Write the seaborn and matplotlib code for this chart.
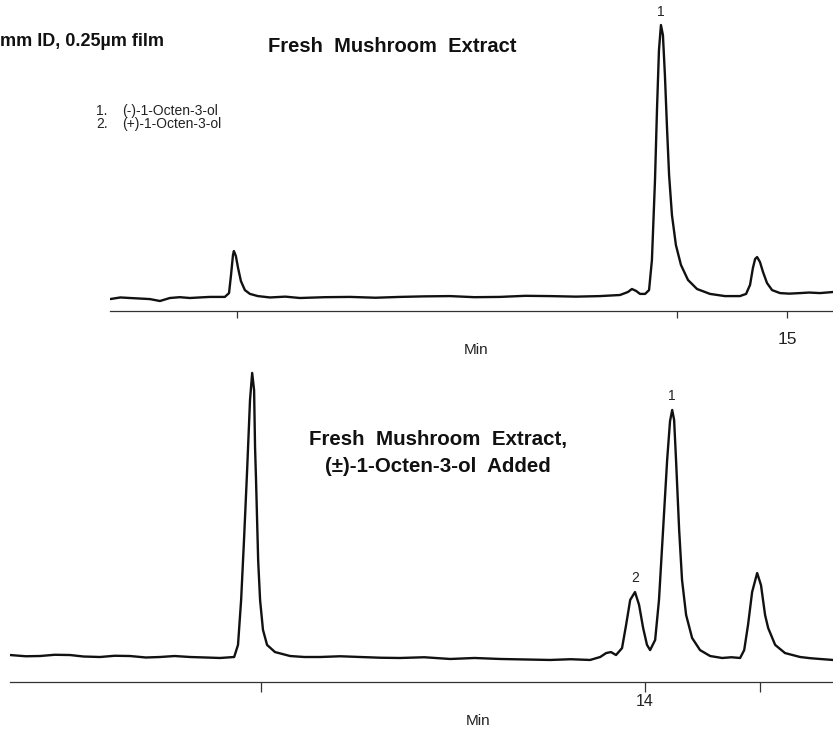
import numpy as np
import matplotlib
matplotlib.use('Agg')
import matplotlib.pyplot as plt
import seaborn as sns
import pandas as pd

# top trace: fresh mushroom extract (time in min, detector signal)
top_time = [11.923, 11.970, 12.014, 12.060, 12.105, 12.150, 12.195, 12.240, 12.286, 12.330,
            12.377, 12.445, 12.464, 12.473, 12.482, 12.486, 12.495, 12.505, 12.518, 12.536,
            12.559, 12.595, 12.650, 12.720, 12.786, 12.900, 13.014, 13.130, 13.241, 13.350,
            13.468, 13.580, 13.695, 13.810, 13.923, 14.040, 14.150, 14.241, 14.277, 14.295,
            14.314, 14.332, 14.355, 14.373, 14.386, 14.400, 14.409, 14.418, 14.427, 14.436,
            14.445, 14.455, 14.464, 14.477, 14.495, 14.518, 14.550, 14.591, 14.650, 14.718,
            14.786, 14.814, 14.832, 14.845, 14.855, 14.864, 14.877, 14.891, 14.909, 14.932,
            14.968, 15.010, 15.059, 15.100, 15.150, 15.209]
top_signal = [-0.4, 0.2, 0.0, -0.2, -0.4, -1.1, 0.0, 0.3, 0.0, 0.2,
              0.4, 0.4, 1.8, 8.4, 15.8, 17.2, 15.4, 11.0, 6.2, 2.9,
              1.5, 0.7, 0.2, 0.5, 0.0, 0.3, 0.4, 0.1, 0.4, 0.6,
              0.7, 0.3, 0.4, 0.8, 0.7, 0.5, 0.7, 1.1, 2.2, 3.3,
              2.6, 1.5, 1.5, 2.9, 13.9, 43.2, 68.9, 90.8, 100.0, 96.3,
              81.7, 61.5, 45.1, 30.4, 19.4, 12.1, 6.6, 3.3, 1.5, 0.7,
              0.7, 1.5, 4.8, 11.0, 14.3, 15.0, 13.2, 9.5, 5.5, 2.9,
              1.8, 1.6, 1.8, 2.0, 1.8, 2.2]

# bottom trace: extract spiked with racemic 1-octen-3-ol
bot_time = [11.354, 11.420, 11.479, 11.540, 11.604, 11.660, 11.729, 11.790, 11.854, 11.920,
            11.979, 12.040, 12.104, 12.170, 12.229, 12.288, 12.304, 12.317, 12.329, 12.342,
            12.354, 12.363, 12.371, 12.375, 12.379, 12.388, 12.396, 12.408, 12.425, 12.458,
            12.521, 12.580, 12.646, 12.730, 12.813, 12.900, 12.979, 13.080, 13.188, 13.290,
            13.396, 13.500, 13.604, 13.690, 13.771, 13.813, 13.838, 13.858, 13.879, 13.904,
            13.921, 13.938, 13.958, 13.975, 13.992, 14.008, 14.021, 14.042, 14.058, 14.075,
            14.092, 14.104, 14.113, 14.121, 14.129, 14.142, 14.154, 14.171, 14.196, 14.229,
            14.271, 14.321, 14.360, 14.396, 14.413, 14.429, 14.446, 14.467, 14.483, 14.500,
            14.513, 14.542, 14.583, 14.646, 14.690, 14.729, 14.783]
bot_signal = [0.8, 0.3, 0.4, 0.9, 0.8, 0.2, 0.0, 0.5, 0.4, -0.2,
              0.0, 0.4, 0.0, -0.2, -0.4, 0.0, 4.9, 23.1, 47.4, 75.7,
              104.0, 115.0, 108.0, 85.0, 72.0, 39.0, 23.0, 11.0, 4.9, 2.0,
              0.4, 0.0, 0.0, 0.3, 0.0, -0.3, -0.4, -0.1, -0.8, -0.4,
              -0.8, -1.0, -1.2, -0.9, -1.2, 0.0, 1.6, 2.0, 0.8, 3.6,
              13.0, 23.1, 26.3, 21.1, 11.7, 4.9, 2.8, 6.9, 23.1, 51.4,
              79.8, 95.5, 100.0, 96.0, 79.8, 51.4, 31.2, 17.0, 7.7, 2.8,
              0.4, -0.4, -0.1, -0.4, 2.8, 13.0, 26.3, 34.0, 29.1, 17.0,
              11.7, 4.9, 1.6, 0.0, -0.5, -0.8, -1.2]

top_ticks = [12.5, 14.5, 15.0]
top_ticklabels = ['', '', '15']
bot_ticks = [12.4, 14.0, 14.48]
bot_ticklabels = ['', '14', '']

top_peaks = {'1': (14.427, 100.0)}
bot_peaks = {'2': (13.958, 26.3), '1': (14.113, 100.0)}

legend_lines = ['1.', '2.']
legend_names = ['(-)-1-Octen-3-ol', '(+)-1-Octen-3-ol']

W, H = 833, 730

def fx(x):
    return x / W

def fy(y):
    return 1 - y / H

sns.set_style('white')
plt.rcParams['font.family'] = ['Liberation Sans', 'DejaVu Sans']

fig = plt.figure(figsize=(W / 100, H / 100), dpi=100)

ax1 = fig.add_axes([fx(110), fy(311), 723 / W, 311 / H])
ax2 = fig.add_axes([fx(10), fy(682), 823 / W, (682 - 360) / H])

df_top = pd.DataFrame({'time': top_time, 'signal': top_signal})
df_bot = pd.DataFrame({'time': bot_time, 'signal': bot_signal})

sns.lineplot(data=df_top, x='time', y='signal', ax=ax1, color='#111111', lw=1.7, sort=False)
sns.lineplot(data=df_bot, x='time', y='signal', ax=ax2, color='#111111', lw=1.7, sort=False)

ax1.set_xlim(11.923, 15.209)
ax1.set_ylim(-4.76, 109.16)
ax2.set_xlim(11.354, 14.783)
ax2.set_ylim(-10.12, 120.24)

for ax in (ax1, ax2):
    ax.patch.set_alpha(0)
    for s in ['top', 'left', 'right']:
        ax.spines[s].set_visible(False)
    ax.spines['bottom'].set_color('#333333')
    ax.spines['bottom'].set_linewidth(0.9)
    ax.set_yticks([])
    ax.set_ylabel('')

ax1.set_xticks(top_ticks)
ax1.set_xticklabels(top_ticklabels, fontsize=12.5, color='#222222')
ax1.tick_params(axis='x', direction='out', length=5, width=0.9, color='#333333', pad=10, bottom=True)
ax2.set_xticks(bot_ticks)
ax2.set_xticklabels(bot_ticklabels, fontsize=11.5, color='#222222')
ax2.tick_params(axis='x', direction='out', length=7.5, width=0.9, color='#333333', pad=1.5, bottom=True)

ax1.set_xlabel('Min', fontsize=11, color='#222222')
ax1.xaxis.set_label_coords((476 - 110) / 723, -(350 - 311) / 311)
ax1.xaxis.label.set_va('center')
ax2.set_xlabel('Min', fontsize=11, color='#222222')
ax2.xaxis.set_label_coords((478 - 10) / 823, -(721 - 682) / (682 - 360))
ax2.xaxis.label.set_va('center')

for lab, (t, v) in top_peaks.items():
    ax1.annotate(lab, (t, v), xytext=(0, 4), textcoords='offset points',
                 ha='center', va='bottom', fontsize=10, color='#222222')
for lab, (t, v) in bot_peaks.items():
    ax2.annotate(lab, (t, v), xytext=(0, 5), textcoords='offset points',
                 ha='center', va='bottom', fontsize=10, color='#222222')

fig.text(fx(0), fy(42), 'mm ID, 0.25\u00b5m film', fontsize=13, fontweight='bold',
         ha='left', va='center', color='#111111')
fig.text(fx(392), fy(47), 'Fresh  Mushroom  Extract', fontsize=14.5, fontweight='bold',
         ha='center', va='center', color='#111111')
fig.text(fx(438), fy(439), 'Fresh  Mushroom  Extract,', fontsize=14.8, fontweight='bold',
         ha='center', va='center', color='#111111')
fig.text(fx(438), fy(467), '(\u00b1)-1-Octen-3-ol  Added', fontsize=14.8, fontweight='bold',
         ha='center', va='center', color='#111111')

for i, (num, name) in enumerate(zip(legend_lines, legend_names)):
    fig.text(fx(96), fy(111 + 13 * i), num, fontsize=10, ha='left', va='center', color='#222222')
    fig.text(fx(122), fy(111 + 13 * i), name, fontsize=10, ha='left', va='center', color='#222222')

fig.savefig('out.png', dpi=100)
